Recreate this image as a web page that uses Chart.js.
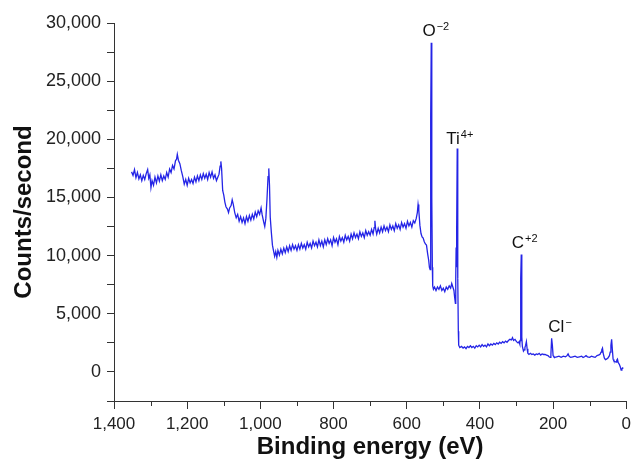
<!DOCTYPE html>
<html>
<head>
<meta charset="utf-8">
<script src="https://cdn.jsdelivr.net/npm/chart.js@4.4.1/dist/chart.umd.min.js"></script>
<style>
  html, body { margin: 0; padding: 0; background: #fff; }
</style>
</head>
<body>
<canvas id="xps" width="636" height="466"></canvas>
<script>
// survey spectrum (eV, counts/s)
const bindingEnergy = [
  1352, 1348, 1344, 1340, 1336, 1332, 1328, 1324, 1320, 1316, 1312, 1308, 1305, 1302, 1299, 1296,
  1292, 1288, 1284, 1280, 1276, 1272, 1268, 1264, 1260, 1256, 1252, 1248, 1244, 1240, 1236, 1232,
  1229, 1227, 1224, 1220, 1216, 1212, 1208, 1204, 1200, 1196, 1192, 1188, 1184, 1180, 1176, 1172,
  1168, 1164, 1160, 1156, 1152, 1148, 1144, 1140, 1136, 1132, 1128, 1124, 1120, 1116, 1113, 1110,
  1108, 1106, 1103, 1100, 1097, 1094, 1090, 1087, 1084, 1080, 1077, 1074, 1070, 1066, 1062, 1058,
  1054, 1050, 1046, 1042, 1038, 1034, 1030, 1026, 1022, 1018, 1014, 1010, 1006, 1002, 998, 995,
  991, 988, 985, 982, 979, 977, 975, 973, 970, 967, 964, 961, 958, 955, 952, 948,
  944, 940, 936, 932, 928, 924, 920, 916, 912, 908, 904, 900, 896, 892, 888, 884,
  880, 876, 872, 868, 864, 860, 856, 852, 848, 844, 840, 836, 832, 828, 824, 820,
  816, 812, 808, 804, 800, 796, 792, 788, 784, 780, 776, 772, 768, 764, 760, 756,
  752, 748, 744, 740, 736, 732, 728, 724, 720, 716, 712, 708, 704, 700, 696, 692,
  689, 687, 685, 682, 678, 674, 670, 666, 662, 658, 654, 650, 646, 642, 638, 634,
  630, 626, 622, 618, 614, 610, 606, 602, 598, 594, 590, 586, 582, 578, 574, 571,
  569, 567, 564, 561, 558, 555, 552, 549, 546, 543, 540, 538, 536, 535, 534, 533,
  532, 531, 530, 529, 527, 524, 520, 516, 512, 508, 504, 500, 496, 492, 488, 484,
  480, 477, 474, 471, 469, 467, 466, 465, 464, 463, 462, 461, 460, 459, 458, 455,
  450, 446, 442, 438, 434, 430, 426, 422, 418, 414, 410, 406, 402, 398, 394, 390,
  386, 382, 378, 374, 370, 366, 362, 358, 354, 350, 346, 342, 338, 334, 330, 326,
  322, 318, 314, 311, 308, 304, 300, 296, 293, 291, 290, 289, 288, 287, 286, 285,
  284, 281, 279, 277, 275, 273, 271, 269, 266, 262, 258, 254, 250, 246, 242, 238,
  234, 230, 226, 222, 218, 214, 211, 208, 206, 204, 202, 200, 198, 195, 190, 184,
  178, 172, 166, 162, 159, 156, 152, 146, 140, 134, 128, 122, 118, 114, 110, 106,
  100, 95, 90, 85, 80, 76, 72, 69, 67, 65, 63, 60, 57, 54, 50, 46,
  44, 42, 40, 38, 36, 34, 31, 28, 26, 24, 22, 19, 16, 14, 12, 10,
  8
]
const countsPerSecond = [
  17200, 16900, 17400, 16700, 17150, 16600, 16950, 16450, 16900, 16550, 17050, 17400, 16650, 16950, 15850, 16450,
  16050, 16750, 16250, 16850, 16400, 16950, 16450, 16850, 16550, 17150, 16750, 17450, 17150, 17750, 17450, 18150,
  18300, 18700, 18200, 17900, 17300, 16800, 16150, 16550, 16050, 16650, 16250, 16550, 16200, 16750, 16350, 16850,
  16450, 16950, 16550, 17050, 16650, 17000, 16550, 17150, 16750, 17200, 16650, 16950, 16450, 16750, 17000, 17700,
  18100, 17500, 15600, 15200, 14600, 14200, 14000, 13700, 14100, 14300, 14800, 14400, 13700, 13250, 13550, 12950,
  13350, 12850, 13250, 12750, 13350, 12950, 13450, 13050, 13550, 13150, 13750, 13350, 13850, 13550, 14100, 13500,
  12900, 12500, 13200, 14800, 16800, 17500, 16000, 13300, 12000, 10900, 10400, 9950, 10350, 9850, 10450, 10050,
  10550, 10150, 10650, 10250, 10750, 10350, 10850, 10450, 10950, 10550, 10850, 10450, 10950, 10550, 11050, 10650,
  10950, 10550, 11150, 10750, 11050, 10650, 11250, 10850, 11150, 10750, 11350, 10850, 11250, 10750, 11350, 10950,
  11450, 11050, 11350, 10850, 11550, 11150, 11450, 10950, 11650, 11250, 11550, 11150, 11750, 11350, 11650, 11250,
  11850, 11450, 11950, 11550, 11850, 11450, 12050, 11650, 11950, 11550, 12150, 11750, 12050, 11750, 12250, 11850,
  12400, 13000, 12300, 11850, 12350, 11950, 12450, 12050, 12550, 12150, 12450, 12050, 12650, 12250, 12550, 12150,
  12750, 12350, 12650, 12250, 12850, 12450, 12750, 12350, 12950, 12550, 12850, 12450, 13000, 12800, 13200, 13700,
  14400, 13900, 12600, 11900, 11600, 11500, 11200, 11000, 10900, 10200, 9600, 9000, 8800, 14000, 22000, 28300,
  25000, 15000, 9000, 7400, 7100, 7300, 7000, 7300, 7100, 7400, 7000, 7200, 6900, 7300, 7100, 7400,
  7200, 7600, 7300, 7000, 6400, 5900, 8000, 10700, 9000, 12500, 19200, 17500, 8000, 3500, 2300, 2100,
  2200, 2050, 2150, 2000, 2200, 2100, 2250, 2100, 2200, 2050, 2250, 2150, 2300, 2150, 2350, 2200,
  2300, 2150, 2400, 2250, 2400, 2300, 2450, 2350, 2500, 2400, 2550, 2450, 2600, 2500, 2650, 2550,
  2700, 2800, 2750, 2950, 2700, 2800, 2600, 2500, 2600, 2400, 2700, 4500, 8000, 10100, 7000, 3000,
  2200, 1800, 1900, 2100, 2300, 2600, 2000, 1600, 1500, 1600, 1500, 1550, 1450, 1550, 1500, 1600,
  1450, 1550, 1500, 1500, 1450, 1400, 1300, 1250, 1500, 2900, 2300, 1400, 1300, 1250, 1300, 1350,
  1250, 1350, 1300, 1400, 1550, 1350, 1250, 1300, 1350, 1250, 1300, 1350, 1250, 1300, 1400, 1300,
  1250, 1350, 1300, 1250, 1400, 1450, 1500, 1700, 1900, 2050, 1600, 1200, 1050, 1100, 1200, 1400,
  1700, 2300, 2800, 1900, 1100, 950, 900, 850, 1000, 1100, 800, 650, 400, 150, 250, 350,
  300
]

const peakNames = ['O', 'Ti', 'C', 'Cl']
const peakCharges = ['\u22122', '4+', '+2', '\u2212']

const FONT = '"Liberation Sans", Arial, Helvetica, sans-serif'

// ion labels next to the peaks, charge raised
const peakLabels = {
  id: 'peakLabels',
  afterDatasetsDraw(chart) {
    const { ctx, scales: { x, y } } = chart
    // label anchors in eV / counts
    const anchor = [[557, 28900], [492, 19600], [313, 10660], [213, 3440]]
    ctx.save()
    ctx.fillStyle = '#111'
    ctx.textBaseline = 'alphabetic'
    ctx.textAlign = 'left'
    peakNames.forEach((name, i) => {
      const px = x.getPixelForValue(anchor[i][0])
      const py = y.getPixelForValue(anchor[i][1])
      ctx.font = '17px ' + FONT
      ctx.fillText(name, px, py)
      const w = ctx.measureText(name).width
      ctx.font = '11px ' + FONT
      ctx.fillText(peakCharges[i], px + w + 1, py - 6)
    })
    ctx.restore()
  }
}

// shorter minor ticks on the energy axis
const minorTicks = {
  id: 'minorTicks',
  afterDraw(chart) {
    const { ctx, scales: { x } } = chart
    ctx.save()
    ctx.strokeStyle = '#333'
    ctx.lineWidth = 1
    x.ticks.forEach(t => {
      if (t.value % 200 === 0) return
      const px = Math.round(x.getPixelForValue(t.value)) + 0.5
      ctx.beginPath()
      ctx.moveTo(px, x.top)
      ctx.lineTo(px, x.top + 5)
      ctx.stroke()
    })
    ctx.restore()
  }
}

const ctx = document.getElementById('xps').getContext('2d')
new Chart(ctx, {
  type: 'line',
  data: {
    datasets: [{
      data: bindingEnergy.map((e, i) => ({ x: e, y: countsPerSecond[i] })),
      borderColor: '#2424e6',
      borderWidth: 1.3,
      pointRadius: 0,
      tension: 0,
      fill: false
    }]
  },
  options: {
    responsive: false,
    animation: false,
    layout: { padding: { top: 23, right: 6, left: 0, bottom: 0 } },
    plugins: {
      legend: { display: false },
      tooltip: { enabled: false }
    },
    scales: {
      x: {
        type: 'linear',
        reverse: true,
        min: 0,
        max: 1400,
        border: { display: true, color: '#333', width: 1 },
        grid: {
          display: true,
          drawOnChartArea: false,
          drawTicks: true,
          tickLength: 8,
          color: '#333',
          tickColor: c => c.tick && c.tick.value % 200 === 0 ? '#333' : 'rgba(0,0,0,0)'
        },
        ticks: {
          stepSize: 100,
          autoSkip: false,
          maxRotation: 0,
          padding: 5,
          color: '#222',
          font: { family: FONT, size: 17 },
          callback: v => v % 200 === 0 ? v.toLocaleString('en-US') : ''
        },
        title: {
          display: true,
          text: 'Binding energy (eV)',
          color: '#111',
          font: { family: FONT, size: 24, weight: 'bold' },
          padding: { top: 0, bottom: 4 }
        },
        afterFit: s => { s.height = 65 }
      },
      y: {
        min: -2500,
        max: 30000,
        border: { display: true, color: '#333', width: 1 },
        grid: { display: true, drawOnChartArea: false, drawTicks: true, tickLength: 7, color: '#333' },
        ticks: {
          stepSize: 2500,
          autoSkip: false,
          padding: 6,
          color: '#222',
          font: { family: FONT, size: 18 },
          callback: v => (v >= 0 && v % 5000 === 0) ? v.toLocaleString('en-US') : ''
        },
        title: {
          display: true,
          text: 'Counts/second',
          color: '#111',
          font: { family: FONT, size: 24, weight: 'bold' },
          padding: { top: 10, bottom: 0 }
        },
        afterFit: s => { s.width = 114 }
      }
    }
  },
  plugins: [peakLabels, minorTicks]
})
</script>
</body>
</html>
